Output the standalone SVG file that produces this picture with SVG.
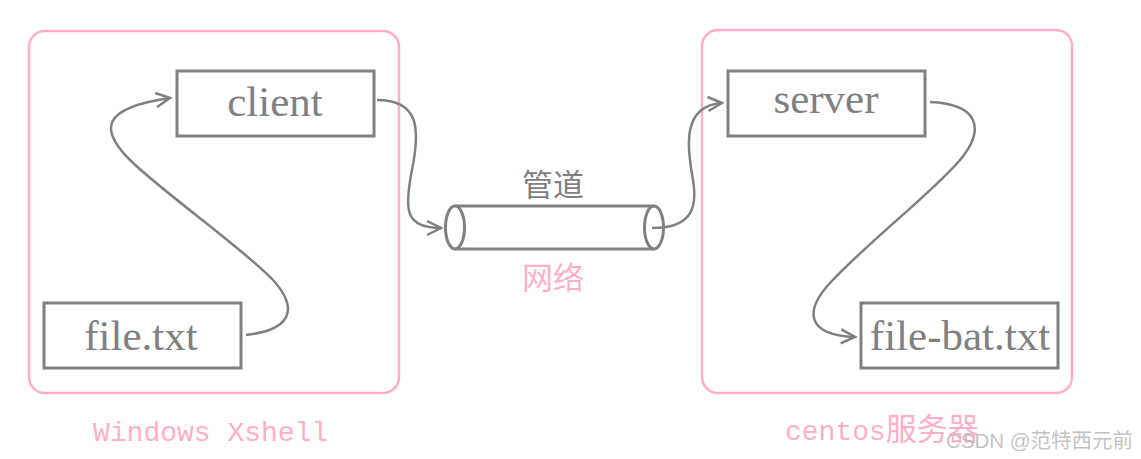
<svg xmlns="http://www.w3.org/2000/svg" width="1141" height="459" viewBox="0 0 1141 459">
<style>
.grp{fill:none;stroke:#ffafc9;stroke-width:2.5}
.node{fill:#fff;stroke:#808080;stroke-width:3}
.lbl{font-family:"Liberation Serif",serif;font-size:43px;fill:#808080;text-anchor:middle}
.conn{fill:none;stroke:#808080;stroke-width:2.5}
.cap{font-family:"Liberation Mono",monospace;font-size:28px;fill:#ffafc9}
.cjk{font-family:"Noto Sans CJK SC","Noto Sans CJK JP",sans-serif;font-size:31px}
</style>
<defs>
<marker id="arr" markerUnits="userSpaceOnUse" markerWidth="20" markerHeight="20" refX="15" refY="8" orient="auto">
<path d="M1,1 L15,8 L1,15" fill="none" stroke="#808080" stroke-width="2.5"/>
</marker>
</defs>
<rect class="grp" x="29" y="31" width="370" height="362" rx="16"/>
<rect class="grp" x="702" y="30" width="370" height="363" rx="16"/>
<g id="client"><rect class="node" x="177" y="71" width="197" height="65"/><text class="lbl" x="275" y="116">client</text></g>
<g id="file"><rect class="node" x="44" y="303" width="197" height="65"/><text class="lbl" x="141" y="350">file.txt</text></g>
<g id="server"><rect class="node" x="728" y="71" width="197" height="65"/><text class="lbl" x="826" y="113">server</text></g>
<g id="filebat"><rect class="node" x="861" y="303" width="197" height="65"/><text class="lbl" x="960" y="350">file-bat.txt</text></g>
<g id="pipe">
<path d="M455,206 L654,206 M455,249 L654,249" fill="none" stroke="#808080" stroke-width="3"/>
<ellipse cx="455" cy="227.5" rx="9.5" ry="21.5" fill="#fff" stroke="#808080" stroke-width="3"/>
<ellipse cx="654" cy="227.5" rx="9.5" ry="21.5" fill="none" stroke="#808080" stroke-width="3"/>
<text class="cjk" x="553" y="196" fill="#808080" text-anchor="middle">管道</text>
<text class="cjk" x="553" y="289" fill="#ffafc9" text-anchor="middle">网络</text>
</g>
<g id="connectors">
<path class="conn" marker-end="url(#arr)" d="M246,335 C290,330 300,310 273,280 C245,250 160,190 130,160 C100,130 100,108 170,98"/>
<path class="conn" marker-end="url(#arr)" d="M377,100 C420,100 420,130 412,170 C404,210 405,228 441,228"/>
<path class="conn" marker-end="url(#arr)" d="M652,228 C690,228 698,210 693,180 C688,150 680,106 722,103"/>
<path class="conn" marker-end="url(#arr)" d="M930,102 C980,104 985,130 960,160 C930,195 870,240 830,283 C805,310 805,335 855,337"/>
</g>
<text class="cap" x="93" y="441">Windows Xshell</text>
<text class="cap" x="785" y="440">centos<tspan class="cjk">服务器</tspan></text>
<text x="946" y="448" font-family="'Liberation Sans','Noto Sans CJK SC',sans-serif" font-size="20.5" fill="#b8b8b8" fill-opacity="0.85">CSDN @范特西元前</text>
</svg>
